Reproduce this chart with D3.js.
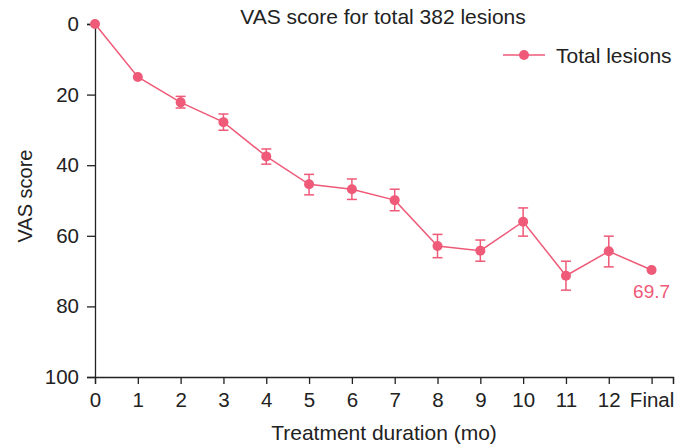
<!DOCTYPE html>
<html>
<head>
<meta charset="utf-8">
<script src="https://cdn.jsdelivr.net/npm/d3@7"></script>
<style>
  body { margin: 0; background: #fff; }
  text { font-family: "Liberation Sans", Arial, sans-serif; fill: #222; }
</style>
</head>
<body>
<svg width="688" height="448"></svg>
<script>
// months of treatment, "Final" sits at position 13
const tickLabels = ['0','1','2','3','4','5','6','7','8','9','10','11','12','Final'];
const vasMean = [0, 15, 22.2, 27.8, 37.5, 45.4, 46.8, 49.9, 62.9, 64.2, 56.0, 71.3, 64.4, 69.7];
const vasLow  = [0, 15, 20.5, 25.5, 35.4, 42.6, 43.9, 46.8, 59.6, 61.2, 52.1, 67.2, 60.1, 69.7];
const vasHigh = [0, 15, 23.8, 30.1, 39.7, 48.4, 49.7, 52.9, 66.2, 67.2, 60.1, 75.4, 68.8, 69.7];
const yTicks = [0, 20, 40, 60, 80, 100];

const col = '#ee5a78';
const svg = d3.select('svg');
const mLeft = 95, mRight = 673, mTop = 24, mBottom = 377;

const x = d3.scaleLinear().domain([0, 13.5]).range([mLeft, mRight]);
const y = d3.scaleLinear().domain([0, 100]).range([mTop, mBottom]);

const pts = vasMean.map((v, i) => ({i: i, v: v, lo: vasLow[i], hi: vasHigh[i]}));

// axes
const xAxis = svg.append('g')
  .attr('transform', `translate(0,${mBottom})`)
  .call(d3.axisBottom(x)
    .tickValues(d3.range(0, 14).concat([13.5]))
    .tickFormat(d => d === 13.5 ? '' : tickLabels[d])
    .tickSizeOuter(0).tickSize(7));
xAxis.selectAll('text').attr('font-size', 20.5).attr('y', 15.5);

const yAxis = svg.append('g')
  .attr('transform', `translate(${mLeft},0)`)
  .call(d3.axisLeft(y).tickValues(yTicks).tickSizeOuter(0).tickSize(8));
yAxis.selectAll('text').attr('font-size', 20.5).attr('x', -16);

svg.selectAll('.domain, .tick line').attr('stroke', '#222').attr('stroke-width', 1.3);

// error bars
const eb = svg.append('g').attr('stroke', col).attr('stroke-width', 1.5);
pts.filter(d => d.hi - d.lo > 0.5).forEach(d => {
  eb.append('line').attr('x1', x(d.i)).attr('x2', x(d.i)).attr('y1', y(d.lo)).attr('y2', y(d.hi));
  eb.append('line').attr('x1', x(d.i) - 5).attr('x2', x(d.i) + 5).attr('y1', y(d.lo)).attr('y2', y(d.lo));
  eb.append('line').attr('x1', x(d.i) - 5).attr('x2', x(d.i) + 5).attr('y1', y(d.hi)).attr('y2', y(d.hi));
});

// line + markers
svg.append('path').datum(pts)
  .attr('fill', 'none').attr('stroke', col).attr('stroke-width', 1.5)
  .attr('d', d3.line().x(d => x(d.i)).y(d => y(d.v)));

svg.selectAll('circle.pt').data(pts).enter().append('circle')
  .attr('class', 'pt')
  .attr('cx', d => x(d.i)).attr('cy', d => y(d.v)).attr('r', 5)
  .attr('fill', col);

// final value label
svg.append('text')
  .attr('x', x(13)).attr('y', y(vasMean[13]) + 28)
  .attr('text-anchor', 'middle').attr('font-size', 19)
  .style('fill', col)
  .text(vasMean[13]);

// title
svg.append('text').attr('x', 383).attr('y', 24).attr('text-anchor', 'middle')
  .attr('font-size', 21).text('VAS score for total 382 lesions');

// legend
const lg = svg.append('g').attr('transform', 'translate(503,55)');
lg.append('line').attr('x1', 0).attr('x2', 42).attr('stroke', col).attr('stroke-width', 1.5);
lg.append('circle').attr('cx', 21).attr('r', 5).attr('fill', col);
lg.append('text').attr('x', 53).attr('y', 8).attr('font-size', 21).text('Total lesions');

// axis titles
svg.append('text').attr('transform', 'translate(32,196) rotate(-90)')
  .attr('text-anchor', 'middle').attr('font-size', 20).text('VAS score');
svg.append('text').attr('x', 384).attr('y', 440).attr('text-anchor', 'middle')
  .attr('font-size', 21).text('Treatment duration (mo)');
</script>
</body>
</html>
